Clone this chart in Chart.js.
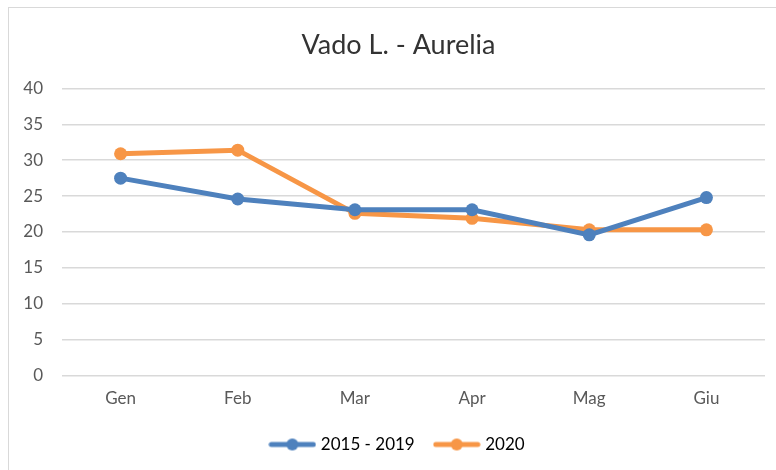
<!DOCTYPE html>
<html>
<head>
<meta charset="utf-8">
<script src="https://cdn.jsdelivr.net/npm/chart.js@4"></script>
<style>
  html, body { margin: 0; padding: 0; background: #fff; overflow: hidden; }
  #frame {
    position: absolute; left: 8px; top: 7px; width: 800px; height: 500px;
    border: 1.5px solid #d9d9d9; box-sizing: border-box;
  }
  #wrap { position: absolute; left: 0; top: 0; width: 776px; height: 470px; }
</style>
</head>
<body>
<div id="frame"></div>
<div id="wrap"><canvas id="chart" width="776" height="470"></canvas></div>
<script>
// data
const months = ["Gen", "Feb", "Mar", "Apr", "Mag", "Giu"];
const avg2015_2019 = [27.5, 24.6, 23.1, 23.1, 19.6, 24.8];
const year2020 = [30.9, 31.4, 22.6, 21.9, 20.3, 20.3];
const yTicks = [0, 5, 10, 15, 20, 25, 30, 35, 40];

const BLUE = "#4e81bd";
const ORANGE = "#f79646";

// legend marker: line with a dot in the middle
function legendMarker(color) {
  const c = document.createElement("canvas");
  c.width = 48; c.height = 14;
  const g = c.getContext("2d");
  g.strokeStyle = color;
  g.lineWidth = 5;
  g.lineCap = "round";
  g.beginPath();
  g.moveTo(3, 7); g.lineTo(45, 7);
  g.stroke();
  g.fillStyle = color;
  g.beginPath();
  g.arc(24, 7, 6, 0, Math.PI * 2);
  g.fill();
  return c;
}

// the original centres title and legend on the whole frame, not the canvas minus axis
const shiftBlocks = {
  id: "shiftBlocks",
  afterLayout(chart) {
    [chart.titleBlock, chart.legend].forEach(b => {
      if (b) { b.left += 16; b.right += 16; }
    });
  }
};

const ctx = document.getElementById("chart").getContext("2d");

new Chart(ctx, {
  type: "line",
  data: {
    labels: months,
    datasets: [
      {
        label: "2015 - 2019",
        data: avg2015_2019,
        borderColor: BLUE,
        backgroundColor: BLUE,
        borderWidth: 5,
        pointRadius: 6.5,
        pointHoverRadius: 6.5,
        pointBorderWidth: 0,
        pointStyle: "circle",
        tension: 0
      },
      {
        label: "2020",
        data: year2020,
        borderColor: ORANGE,
        backgroundColor: ORANGE,
        borderWidth: 5,
        pointRadius: 6.5,
        pointHoverRadius: 6.5,
        pointBorderWidth: 0,
        pointStyle: "circle",
        tension: 0
      }
    ]
  },
  plugins: [shiftBlocks],
  options: {
    responsive: false,
    animation: false,
    layout: { padding: { left: 0, right: 11, top: 18, bottom: 7 } },
    plugins: {
      title: {
        display: true,
        text: "Vado L. - Aurelia",
        color: "#333333",
        font: { family: "Lato", size: 27, weight: "normal" },
        padding: { top: 11, bottom: 27 }
      },
      legend: {
        position: "bottom",
        labels: {
          usePointStyle: true,
          pointStyleWidth: 40,
          color: "#000000",
          font: { family: "Lato", size: 17 },
          padding: 22,
          generateLabels(chart) {
            return chart.data.datasets.map((ds, i) => ({
              text: ds.label,
              pointStyle: legendMarker(ds.borderColor),
              fillStyle: ds.borderColor,
              strokeStyle: ds.borderColor,
              lineWidth: 0,
              datasetIndex: i,
              fontColor: "#000000"
            }));
          }
        }
      },
      tooltip: { enabled: false }
    },
    scales: {
      x: {
        offset: true,
        grid: { display: false },
        border: { display: false },
        ticks: {
          color: "#595959",
          font: { family: "Lato", size: 17 },
          padding: 5
        }
      },
      y: {
        min: 0,
        max: 40,
        afterBuildTicks(axis) {
          axis.ticks = yTicks.map(v => ({ value: v }));
        },
        afterFit(axis) { axis.width = 62; },
        grid: { color: "#d9d9d9", lineWidth: 1.5, drawTicks: false },
        border: { display: false },
        ticks: {
          color: "#595959",
          font: { family: "Lato", size: 17 },
          padding: 19
        }
      }
    }
  }
});
</script>
</body>
</html>
